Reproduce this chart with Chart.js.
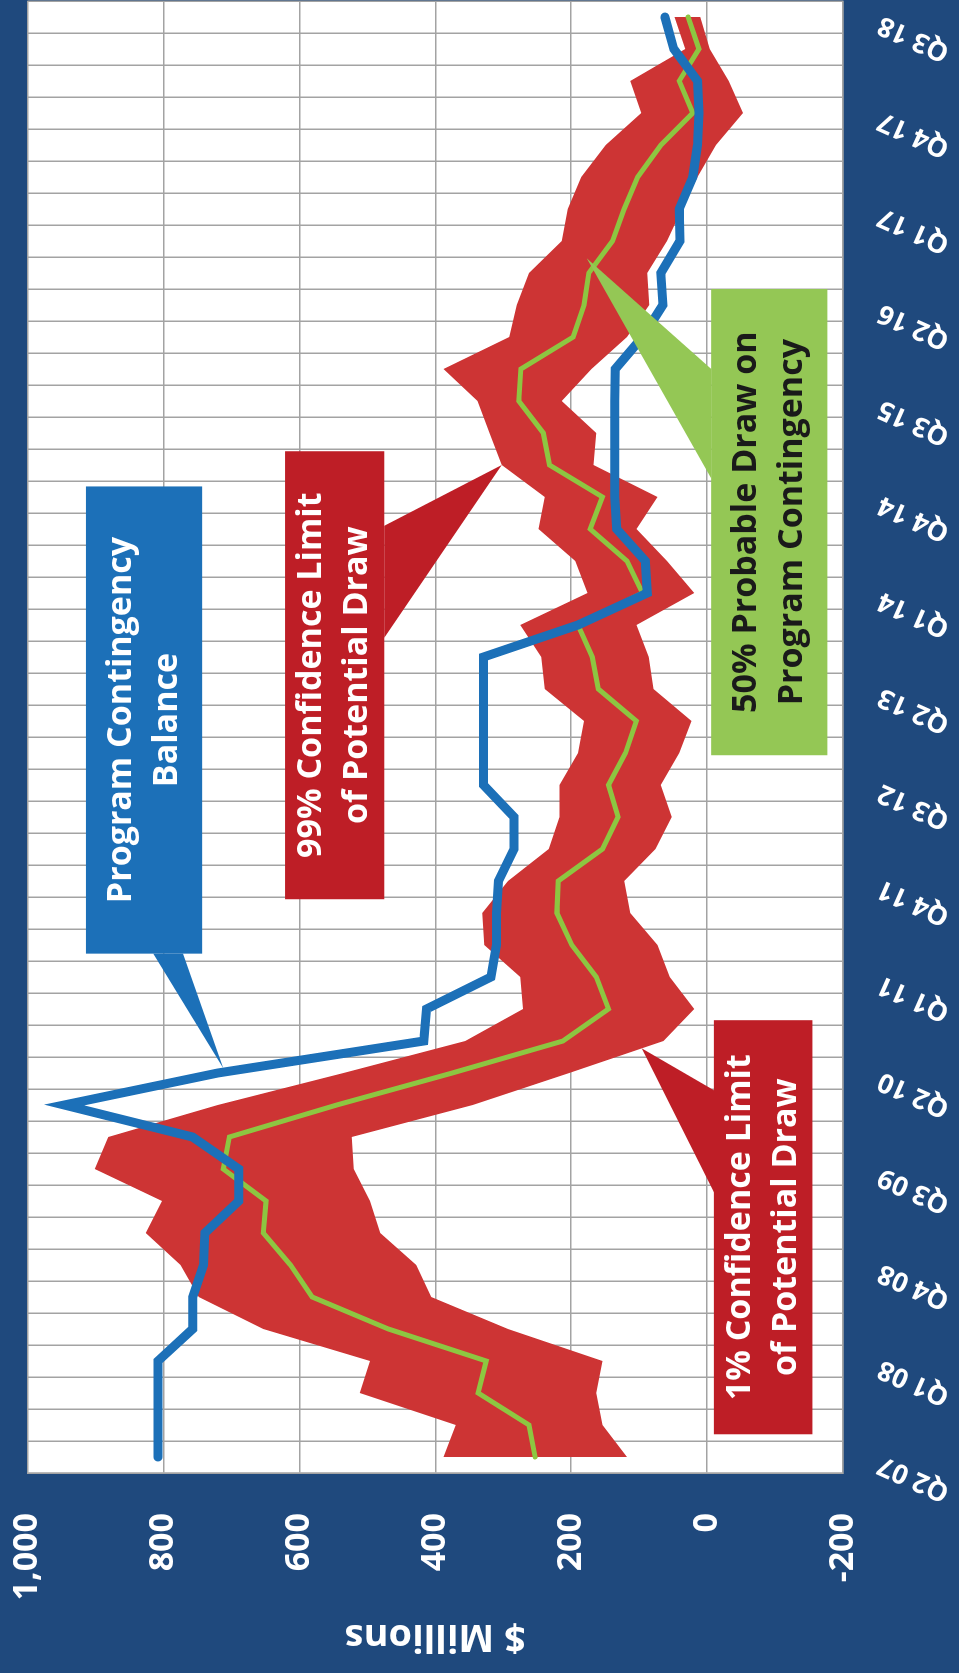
<!DOCTYPE html>
<html lang="en">
<head>
  <meta charset="UTF-8">
  <title>Program Contingency Draw</title>
  <style>
    html, body {
      margin: 0;
      padding: 0;
      width: 959px;
      height: 1673px;
      overflow: hidden;
      background-color: #1F497D;
    }
    /* chart is laid out landscape, then turned a quarter to the left */
    .chart-box {
      position: absolute;
      left: 0;
      top: 0;
      width: 1673px;
      height: 959px;
      transform-origin: 0 0;
      transform: translateY(1673px) rotate(-90deg);
    }
  </style>
  <script src="https://cdn.jsdelivr.net/npm/chart.js"></script>
</head>
<body>
  <div class="chart-box">
    <canvas id="drawChart" width="1673" height="959"></canvas>
  </div>

  <script>
    const quarters = [
      'Q2 07', 'Q3 07', 'Q4 07',
      'Q1 08', 'Q2 08', 'Q3 08', 'Q4 08',
      'Q1 09', 'Q2 09', 'Q3 09', 'Q4 09',
      'Q1 10', 'Q2 10', 'Q3 10', 'Q4 10',
      'Q1 11', 'Q2 11', 'Q3 11', 'Q4 11',
      'Q1 12', 'Q2 12', 'Q3 12', 'Q4 12',
      'Q1 13', 'Q2 13', 'Q3 13', 'Q4 13',
      'Q1 14', 'Q2 14', 'Q3 14', 'Q4 14',
      'Q1 15', 'Q2 15', 'Q3 15', 'Q4 15',
      'Q1 16', 'Q2 16', 'Q3 16', 'Q4 16',
      'Q1 17', 'Q2 17', 'Q3 17', 'Q4 17',
      'Q1 18', 'Q2 18', 'Q3 18'
    ];

    // $ millions
    const contingencyBalance = [808, 808, 808, 808, 757, 757, 741, 739, 689, 689, 757, 946, 720, 417, 413, 318,
      310, 310, 307, 284, 284, 329, 329, 329, 329, 329, 190, 88, 91, 133, 136, 136, 136, 136, 135, 95,
      65, 68, 40, 41, 21, 14, 12, 14, 49, 62];
    const probableDraw50 = [253, 262, 337, 325, 469, 581, 613, 653, 649, 712, 703, 545, 375, 212, 145, 163,
      199, 221, 219, 154, 131, 145, 120, 104, 160, 169, 190, 95, 118, 172, 154, 232, 241, 277, 274, 197,
      181, 174, 139, 122, 102, 68, 21, 41, 12, 28];
    const limit99 = [388, 370, 511, 496, 653, 748, 775, 826, 802, 901, 881, 720, 535, 356, 271, 275,
      328, 331, 293, 233, 217, 217, 190, 181, 239, 244, 275, 176, 194, 248, 239, 302, 320, 338, 388, 291,
      280, 262, 214, 205, 185, 149, 97, 113, 32, 48];
    const limit1 = [118, 154, 163, 154, 293, 406, 428, 481, 496, 520, 523, 345, 203, 64, 19, 55,
      73, 113, 122, 76, 52, 68, 41, 23, 79, 86, 104, 19, 59, 104, 73, 167, 163, 214, 170, 118,
      85, 88, 59, 37, 14, -13, -53, -32, -4, 10];

    const valueTicks = { min: -200, max: 1000, step: 200 };

    // callout boxes, given as [quarter index, $M] so they follow the scales
    const callouts = [
      { lines: ['Program Contingency', 'Balance'], fill: '#1C70B8', text: '#FFFFFF',
        box: [15.73, 30.33, 914, 743], base: [[15.73, 815], [15.73, 771]], tip: [12.15, 712] },
      { lines: ['99% Confidence Limit', 'of Potential Draw'], fill: '#BE1E26', text: '#FFFFFF',
        box: [17.43, 31.43, 621, 475], base: [[29.1, 475], [25.6, 475]], tip: [31.0, 302] },
      { lines: ['1% Confidence Limit', 'of Potential Draw'], fill: '#BE1E26', text: '#FFFFFF',
        box: [0.71, 13.65, -10, -155], base: [[11.46, -10], [8.27, -10]], tip: [12.77, 96] },
      { lines: ['50% Probable Draw on', 'Program Contingency'], fill: '#94C755', text: '#1A1A1A',
        box: [21.93, 36.5, -6, -177], base: [[34.0, -6], [30.58, -6]], tip: [37.46, 177] }
    ];

    const gridGray = '#A3A3A3';
    const bgBlue = '#1F497D';
    const fontFamily = '"Open Sans", "DejaVu Sans", sans-serif';

    const backgroundPlugin = {
      id: 'background',
      beforeDraw(chart) {
        const { ctx, chartArea } = chart;
        ctx.save();
        ctx.fillStyle = bgBlue;
        ctx.fillRect(0, 0, chart.width, chart.height);
        ctx.fillStyle = '#FFFFFF';
        ctx.fillRect(chartArea.left, chartArea.top, chartArea.right - chartArea.left, chartArea.bottom - chartArea.top);
        ctx.restore();
      }
    };

    const calloutPlugin = {
      id: 'callouts',
      afterDraw(chart) {
        const { ctx } = chart;
        const xs = chart.scales.x;
        const ys = chart.scales.y;
        const px = (p) => [xs.getPixelForValue(p[0]), ys.getPixelForValue(p[1])];

        ctx.save();
        callouts.forEach(c => {
          const x0 = xs.getPixelForValue(c.box[0]);
          const x1 = xs.getPixelForValue(c.box[1]);
          const y0 = ys.getPixelForValue(c.box[2]);
          const y1 = ys.getPixelForValue(c.box[3]);
          ctx.fillStyle = c.fill;
          ctx.fillRect(x0, y0, x1 - x0, y1 - y0);

          const b1 = px(c.base[0]);
          const b2 = px(c.base[1]);
          const t = px(c.tip);
          ctx.beginPath();
          ctx.moveTo(b1[0], b1[1]);
          ctx.lineTo(t[0], t[1]);
          ctx.lineTo(b2[0], b2[1]);
          ctx.closePath();
          ctx.fill();

          ctx.fillStyle = c.text;
          ctx.font = 'bold 34px ' + fontFamily;
          ctx.textAlign = 'center';
          ctx.textBaseline = 'middle';
          const cx = (x0 + x1) / 2;
          const cy = (y0 + y1) / 2;
          const lh = 46;
          c.lines.forEach((line, i) => {
            ctx.fillText(line, cx, cy + (i - (c.lines.length - 1) / 2) * lh);
          });
        });
        ctx.restore();
      }
    };

    const ctx = document.getElementById('drawChart').getContext('2d');
    const drawChart = new Chart(ctx, {
      type: 'line',
      data: {
        labels: quarters,
        datasets: [
          {
            label: 'Program Contingency Balance',
            data: contingencyBalance,
            borderColor: '#1C70B8',
            borderWidth: 9,
            borderCapStyle: 'round',
            fill: false
          },
          {
            label: '50% Probable Draw on Program Contingency',
            data: probableDraw50,
            borderColor: '#8DC641',
            borderWidth: 5,
            borderCapStyle: 'round',
            fill: false
          },
          {
            label: '99% Confidence Limit of Potential Draw',
            data: limit99,
            borderWidth: 0,
            borderColor: 'rgba(0,0,0,0)',
            backgroundColor: '#CD3434',
            fill: '+1'
          },
          {
            label: '1% Confidence Limit of Potential Draw',
            data: limit1,
            borderWidth: 0,
            borderColor: 'rgba(0,0,0,0)',
            backgroundColor: '#CD3434',
            fill: false
          }
        ]
      },
      options: {
        responsive: false,
        animation: false,
        devicePixelRatio: 1,
        layout: {
          padding: { top: 27.5, right: 1, left: 0, bottom: 0 }
        },
        elements: {
          point: { radius: 0, hoverRadius: 0 },
          line: { tension: 0 }
        },
        plugins: {
          legend: { display: false },
          tooltip: { enabled: false }
        },
        scales: {
          x: {
            offset: true,
            grid: { offset: true, color: gridGray, lineWidth: 1.5, drawTicks: false },
            border: { color: gridGray, width: 1.5 },
            ticks: {
              autoSkip: false,
              minRotation: 66,
              maxRotation: 66,
              padding: 30,
              labelOffset: -6,
              color: '#FFFFFF',
              font: { family: fontFamily, size: 27, weight: 'bold' },
              callback: (value, index) => index % 3 === 0 ? quarters[index] : ''
            },
            afterFit: (scale) => {
              scale.height = 116;
              scale.paddingLeft = 0;
              scale.paddingRight = 0;
            }
          },
          y: {
            min: valueTicks.min,
            max: valueTicks.max,
            grid: { color: gridGray, lineWidth: 1.5, drawTicks: false },
            border: { color: gridGray, width: 1.5 },
            ticks: {
              stepSize: valueTicks.step,
              padding: 40,
              color: '#FFFFFF',
              font: { family: fontFamily, size: 34, weight: 'bold' },
              callback: (value) => value.toLocaleString('en-US')
            },
            title: {
              display: true,
              text: '$ Millions',
              color: '#FFFFFF',
              font: { family: fontFamily, size: 38, weight: 'bold' },
              padding: { top: 14, bottom: 0 }
            },
            afterFit: (scale) => {
              scale.width = 200;
              scale.paddingTop = 0;
              scale.paddingBottom = 0;
            }
          }
        }
      },
      plugins: [backgroundPlugin, calloutPlugin]
    });
  </script>
</body>
</html>
